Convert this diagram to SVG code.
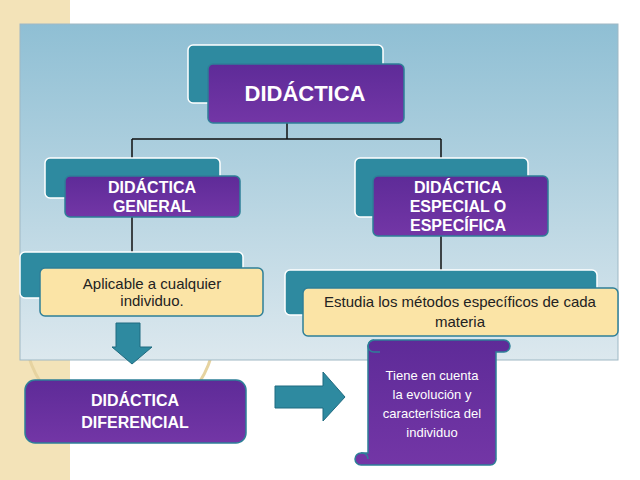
<svg xmlns="http://www.w3.org/2000/svg" width="640" height="480" viewBox="0 0 640 480">
<defs>
<linearGradient id="bg" x1="0" y1="0" x2="0" y2="1"><stop offset="0" stop-color="#8fbfd4"/><stop offset="1" stop-color="#dce8ee"/></linearGradient>
<linearGradient id="pu" x1="0" y1="0" x2="0" y2="1"><stop offset="0" stop-color="#5e2b98"/><stop offset="1" stop-color="#7336a6"/></linearGradient>
<style>
.teal{fill:#2e8aa0;stroke:#fff;stroke-width:1.5}
.pur{fill:url(#pu);stroke:#2e7f98;stroke-width:1.5}
.yel{fill:#fbe4a6;stroke:#2e7f98;stroke-width:1.5}
.h{font-family:"Liberation Sans",Arial,sans-serif;font-weight:bold;fill:#fff;text-anchor:middle}
.t{font-family:"Liberation Sans",Arial,sans-serif;fill:#222;text-anchor:middle;font-size:15px}
.w{font-family:"Liberation Sans",Arial,sans-serif;fill:#fff;text-anchor:middle;font-size:13px}
.ln{stroke:#111;stroke-width:1.5;fill:none}
.ar{fill:#2e8aa0;stroke:#1f6b80;stroke-width:1}
</style>
</defs>
<rect width="640" height="480" fill="#fff"/>
<rect x="0" y="0" width="70" height="480" fill="#f3e3b8"/>
<circle cx="120" cy="160" r="95" fill="none" stroke="#e6d3a0" stroke-width="3"/>
<circle cx="120" cy="330" r="95" fill="none" stroke="#e6d3a0" stroke-width="3"/>
<rect x="20" y="24" width="598" height="336" fill="url(#bg)" stroke="#9fb8c4"/>
<g id="connectors">
<path class="ln" d="M287 123V139M132 139H441M132 139V158M441 139V158M132 217V252M441 236V270"/>
<path class="ar" d="M116 323H140V347H152L132 364L112 347H116Z"/>
<path class="ar" d="M275 386H323V372L345 397L323 421V408H275Z"/>
</g>
<g id="n-didactica">
<rect class="teal" x="188" y="45" width="195" height="58" rx="5"/>
<rect class="pur" x="208" y="64" width="196" height="59" rx="5"/>
<text class="h" x="305" y="101" font-size="22">DIDÁCTICA</text>
</g>
<g id="n-general">
<rect class="teal" x="45" y="158" width="175" height="40" rx="5"/>
<rect class="pur" x="65" y="176" width="175" height="41" rx="5"/>
<text class="h" x="152" y="193" font-size="16">DIDÁCTICA</text>
<text class="h" x="152" y="212" font-size="16">GENERAL</text>
</g>
<g id="n-especial">
<rect class="teal" x="355" y="158" width="173" height="59" rx="5"/>
<rect class="pur" x="373" y="176" width="175" height="60" rx="5"/>
<text class="h" x="458" y="193" font-size="16">DIDÁCTICA</text>
<text class="h" x="458" y="212" font-size="16">ESPECIAL O</text>
<text class="h" x="458" y="231" font-size="16">ESPECÍFICA</text>
</g>
<g id="n-aplicable">
<rect class="teal" x="20" y="252" width="223" height="46" rx="5"/>
<rect class="yel" x="40" y="268" width="223" height="48" rx="5"/>
<text class="t" x="152" y="289">Aplicable a cualquier</text>
<text class="t" x="152" y="306">individuo.</text>
</g>
<g id="n-estudia">
<rect class="teal" x="285" y="270" width="312" height="45" rx="5"/>
<rect class="yel" x="303" y="288" width="315" height="48" rx="5"/>
<text class="t" x="460" y="307">Estudia los métodos específicos de cada</text>
<text class="t" x="460" y="327">materia</text>
</g>
<g id="n-diferencial">
<rect class="pur" x="25" y="380" width="221" height="63" rx="10"/>
<text class="h" x="135" y="406" font-size="16">DIDÁCTICA</text>
<text class="h" x="135" y="428" font-size="16">DIFERENCIAL</text>
</g>
<g id="n-tiene">
<path class="pur" d="M368 346A6 6 0 0 1 374 340H504A6 6 0 0 1 504 352H496V458A6 6 0 0 1 490 465H361A6 6 0 0 1 361 453H368Z"/>
<path d="M374 340A6 6 0 0 0 374 352H380" fill="none" stroke="#2e7f98" stroke-width="1.5"/>
<path d="M361 453A6 6 0 0 1 368 459" fill="none" stroke="#2e7f98" stroke-width="1.5"/>
<text class="w" x="432" y="380">Tiene en cuenta</text>
<text class="w" x="432" y="399">la evolución y</text>
<text class="w" x="432" y="418">característica del</text>
<text class="w" x="432" y="437">individuo</text>
</g>
</svg>
